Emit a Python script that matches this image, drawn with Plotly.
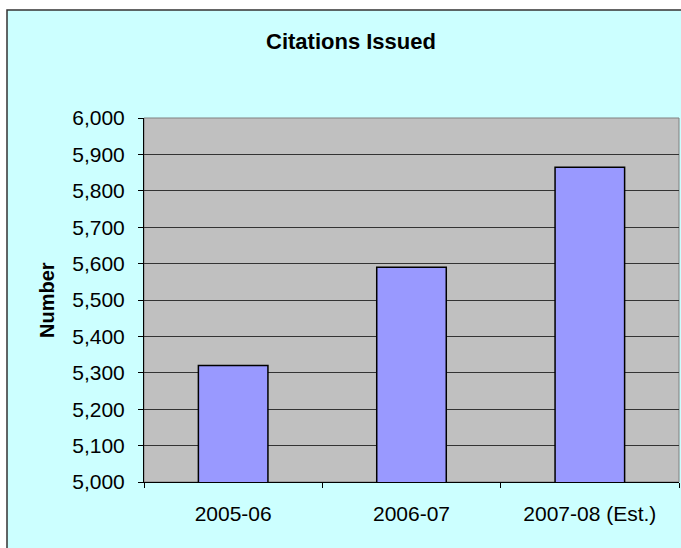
import plotly.graph_objects as go

# Citations issued per fiscal year
years = ["2005-06", "2006-07", "2007-08 (Est.)"]
citations = [5320, 5590, 5865]

y_ticks = list(range(5000, 6001, 100))

W, H = 681, 548
L, R, T, B = 144, 2, 118, 66
pw, ph = W - L - R, H - T - B

def px_x(p):
    return (p - L) / pw

def px_y(p):
    return (H - B - p) / ph

fig = go.Figure(
    go.Bar(
        x=years,
        y=citations,
        marker=dict(color="#9999FF", line=dict(color="black", width=1.5)),
        width=0.39,
    )
)

shapes = [
    # chart area: pale cyan panel with thin dark frame
    dict(type="rect", xref="paper", yref="paper", layer="below",
         x0=px_x(7), x1=px_x(700), y0=px_y(560), y1=px_y(10),
         fillcolor="#CCFFFF", line=dict(color="#333333", width=1.5)),
    # plot area: gray fill with gray frame
    dict(type="rect", xref="paper", yref="paper", layer="below",
         x0=0, x1=1, y0=0, y1=1,
         fillcolor="#C0C0C0", line=dict(color="#808080", width=1)),
]

FONT = "Liberation Sans, Arial, sans-serif"

fig.update_layout(
    width=W,
    height=H,
    margin=dict(l=L, r=R, t=T, b=B, pad=0),
    paper_bgcolor="white",
    plot_bgcolor="rgba(0,0,0,0)",
    showlegend=False,
    shapes=shapes,
    font=dict(family=FONT, size=21, color="black"),
    title=dict(
        text="<b>Citations Issued</b>",
        x=351 / W, xref="container", xanchor="center",
        y=1 - 41 / H, yref="container", yanchor="middle",
        font=dict(size=22, family=FONT),
    ),
    annotations=[
        dict(text="<b>Number</b>", textangle=-90, xref="paper", yref="paper",
             x=px_x(47), y=px_y(300), xanchor="center", yanchor="middle",
             showarrow=False, font=dict(size=20)),
    ],
    xaxis=dict(
        type="category",
        showgrid=False,
        showline=True, linecolor="black", linewidth=1,
        ticks="outside", tickson="boundaries", ticklen=5, tickcolor="black",
        ticklabelstandoff=13,
        tickfont=dict(size=21),
    ),
    yaxis=dict(
        range=[5000, 6000],
        tickvals=y_ticks,
        tickformat=",d",
        showgrid=True, gridcolor="#333333", gridwidth=1,
        showline=True, linecolor="black", linewidth=1,
        ticks="outside", ticklen=5, tickcolor="black",
        ticklabelstandoff=9,
        tickfont=dict(size=21),
        zeroline=False,
    ),
)

fig.write_html("out.html")
